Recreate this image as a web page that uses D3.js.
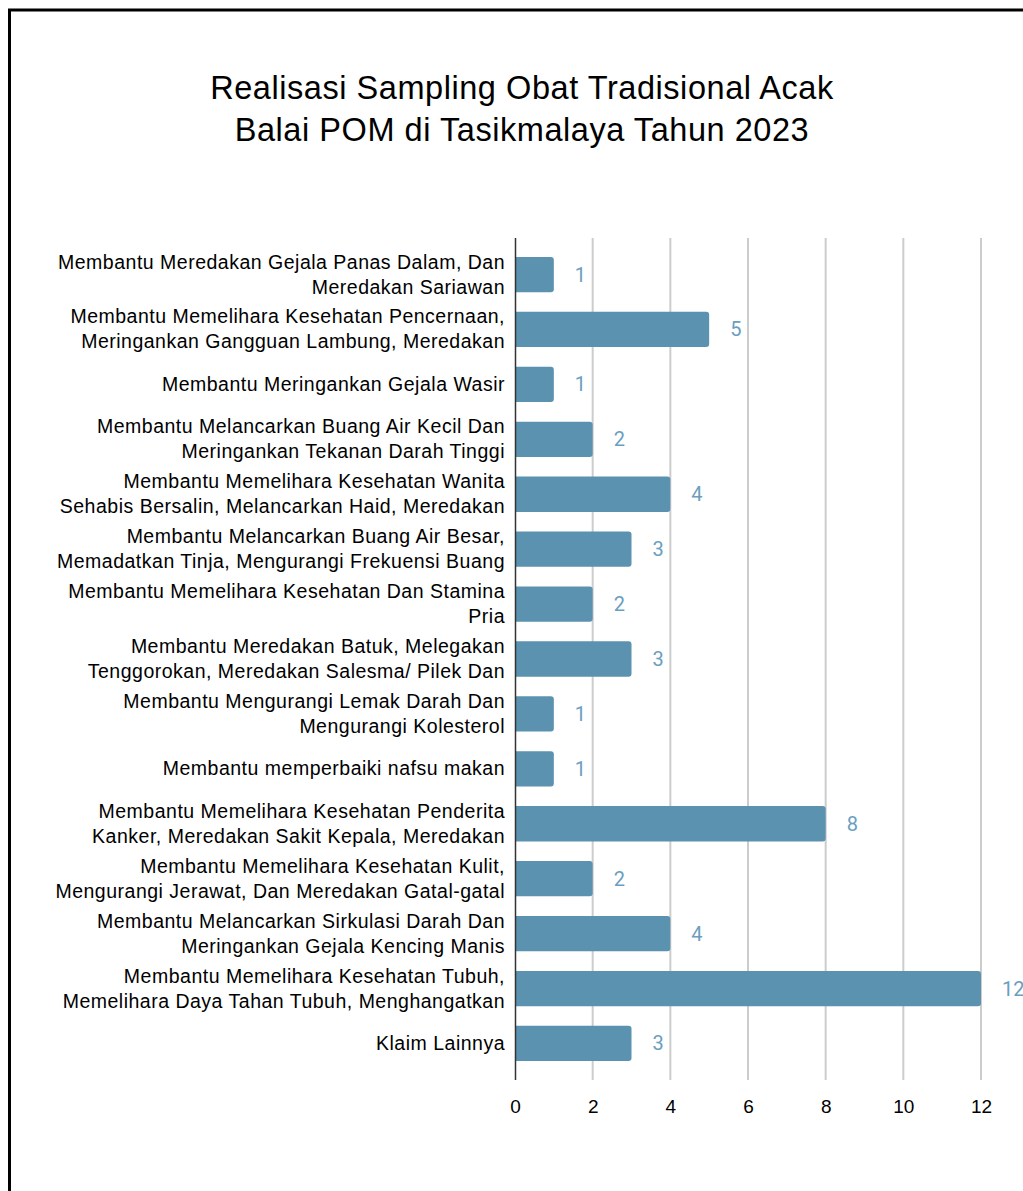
<!DOCTYPE html>
<html>
<head>
<meta charset="utf-8">
<script src="https://cdn.jsdelivr.net/npm/d3@7"></script>
<style>
  body { margin: 0; background: #fff; }
  svg { display: block; }
</style>
</head>
<body>
<svg width="1023" height="1191"></svg>
<script>
var titleLines = [
  "Realisasi Sampling Obat Tradisional Acak",
  "Balai POM di Tasikmalaya Tahun 2023"
];

var categories = [
  "Membantu Meredakan Gejala Panas Dalam, Dan\nMeredakan Sariawan",
  "Membantu Memelihara Kesehatan Pencernaan,\nMeringankan Gangguan Lambung, Meredakan",
  "Membantu Meringankan Gejala Wasir",
  "Membantu Melancarkan Buang Air Kecil Dan\nMeringankan Tekanan Darah Tinggi",
  "Membantu Memelihara Kesehatan Wanita\nSehabis Bersalin, Melancarkan Haid, Meredakan",
  "Membantu Melancarkan Buang Air Besar,\nMemadatkan Tinja, Mengurangi Frekuensi Buang",
  "Membantu Memelihara Kesehatan Dan Stamina\nPria",
  "Membantu Meredakan Batuk, Melegakan\nTenggorokan, Meredakan Salesma/ Pilek Dan",
  "Membantu Mengurangi Lemak Darah Dan\nMengurangi Kolesterol",
  "Membantu memperbaiki nafsu makan",
  "Membantu Memelihara Kesehatan Penderita\nKanker, Meredakan Sakit Kepala, Meredakan",
  "Membantu Memelihara Kesehatan Kulit,\nMengurangi Jerawat, Dan Meredakan Gatal-gatal",
  "Membantu Melancarkan Sirkulasi Darah Dan\nMeringankan Gejala Kencing Manis",
  "Membantu Memelihara Kesehatan Tubuh,\nMemelihara Daya Tahan Tubuh, Menghangatkan",
  "Klaim Lainnya"
];

var values = [1, 5, 1, 2, 4, 3, 2, 3, 1, 1, 8, 2, 4, 12, 3];

var xTicks = [0, 2, 4, 6, 8, 10, 12];

var svg = d3.select("svg");
var font = "'Liberation Sans', Arial, sans-serif";

// frame (the picture is cut on the right and bottom)
svg.append("rect")
  .attr("x", 9.5).attr("y", 10)
  .attr("width", 1200).attr("height", 1400)
  .attr("fill", "none")
  .attr("stroke", "#000")
  .attr("stroke-width", 3);

svg.append("g")
  .selectAll("text")
  .data(titleLines)
  .join("text")
  .attr("x", 522)
  .attr("y", function (d, i) { return 99 + i * 42; })
  .attr("text-anchor", "middle")
  .attr("font-family", font)
  .attr("font-size", 32.5)
  .attr("letter-spacing", 0.55)
  .attr("fill", "#000")
  .text(function (d) { return d; });

var x = d3.scaleLinear().domain([0, 12]).range([515, 981]);

var y = d3.scaleBand()
  .domain(d3.range(categories.length))
  .range([247, 1071])
  .paddingInner(0.357)
  .paddingOuter(0.18);

// grid lines
svg.append("g")
  .selectAll("line")
  .data(xTicks.slice(1))
  .join("line")
  .attr("x1", function (d) { return x(d); })
  .attr("x2", function (d) { return x(d); })
  .attr("y1", 238)
  .attr("y2", 1080)
  .attr("stroke", "#cccccc")
  .attr("stroke-width", 2);

// bars, rounded on the right end only
var r = 3;
svg.append("g")
  .selectAll("path")
  .data(values)
  .join("path")
  .attr("fill", "#5a92b0")
  .attr("d", function (d, i) {
    var x0 = x(0), x1 = x(d), y0 = y(i), h = y.bandwidth();
    return "M" + x0 + "," + y0 +
      "H" + (x1 - r) +
      "Q" + x1 + "," + y0 + " " + x1 + "," + (y0 + r) +
      "V" + (y0 + h - r) +
      "Q" + x1 + "," + (y0 + h) + " " + (x1 - r) + "," + (y0 + h) +
      "H" + x0 + "Z";
  });

// value labels
svg.append("g")
  .selectAll("text")
  .data(values)
  .join("text")
  .attr("x", function (d) { return x(d) + 21; })
  .attr("y", function (d, i) { return y(i) + y.bandwidth() / 2 + 7; })
  .attr("font-family", "Roboto, sans-serif")
  .attr("font-size", 20)
  .attr("fill", "#6a9ec0")
  .text(function (d) { return d; });

// category labels
var cat = svg.append("g")
  .selectAll("text")
  .data(categories)
  .join("text")
  .attr("text-anchor", "end")
  .attr("font-family", font)
  .attr("font-size", 19.5)
  .attr("letter-spacing", 0.5)
  .attr("fill", "#000");

cat.each(function (d, i) {
  var lines = d.split("\n");
  var cy = y(i) + y.bandwidth() / 2;
  d3.select(this)
    .selectAll("tspan")
    .data(lines)
    .join("tspan")
    .attr("x", 505)
    .attr("y", function (l, j) { return cy + 6.5 + (j - (lines.length - 1) / 2) * 25; })
    .text(function (l) { return l; });
});

// axis line
svg.append("line")
  .attr("x1", 515.5).attr("x2", 515.5)
  .attr("y1", 238).attr("y2", 1080)
  .attr("stroke", "#333")
  .attr("stroke-width", 1.5);

// x axis tick labels
var xAxis = d3.axisBottom(x).tickValues(xTicks).tickSize(0).tickPadding(0);
var ax = svg.append("g")
  .attr("transform", "translate(0,1099)")
  .call(xAxis);
ax.select(".domain").remove();
ax.selectAll("text")
  .attr("font-family", font)
  .attr("font-size", 19)
  .attr("fill", "#000")
  .attr("dy", "0.71em");
</script>
</body>
</html>
